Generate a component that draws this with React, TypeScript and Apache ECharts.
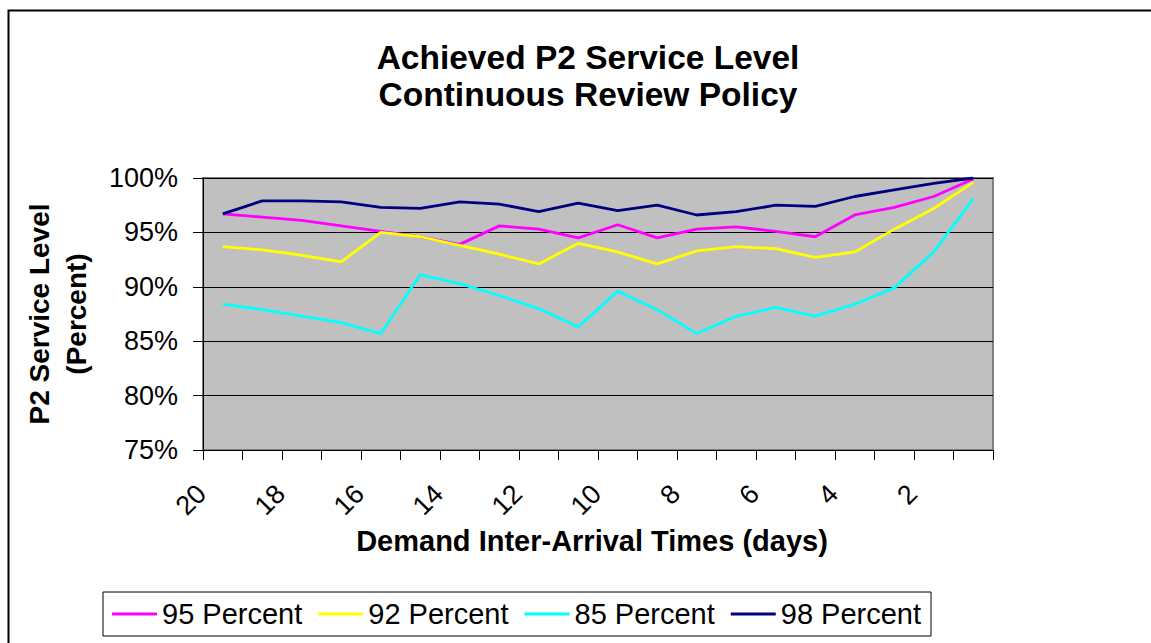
import React, { useEffect, useRef } from "react";
import * as echarts from "echarts";

const categories = ["20","19","18","17","16","15","14","13","12","11","10","9","8","7","6","5","4","3","2","1"];
const p95 = [96.7, 96.4, 96.1, 95.6, 95.1, 94.6, 93.9, 95.6, 95.3, 94.5, 95.7, 94.5, 95.3, 95.5, 95.1, 94.6, 96.6, 97.3, 98.3, 99.9];
const p92 = [93.7, 93.4, 92.9, 92.3, 95.0, 94.6, 93.8, 93.0, 92.1, 94.0, 93.2, 92.1, 93.3, 93.7, 93.5, 92.7, 93.2, 95.3, 97.2, 99.6];
const p85 = [88.4, 87.9, 87.3, 86.7, 85.7, 91.1, 90.3, 89.2, 88.0, 86.3, 89.6, 87.9, 85.7, 87.3, 88.1, 87.3, 88.4, 89.9, 93.2, 98.1];
const p98 = [96.7, 97.9, 97.9, 97.8, 97.3, 97.2, 97.8, 97.6, 96.9, 97.7, 97.0, 97.5, 96.6, 96.9, 97.5, 97.4, 98.3, 98.9, 99.5, 100.0];
const seriesNames = ["95 Percent", "92 Percent", "85 Percent", "98 Percent"];
const seriesColors = ["#FF00FF", "#FFFF00", "#00FFFF", "#000080"];
const FONT = "'Liberation Sans', Arial, sans-serif";

export default function App() {
  const ref = useRef<HTMLDivElement>(null);
  useEffect(() => {
    if (!ref.current) return;
    const chart = echarts.init(ref.current, null, { renderer: "svg" });
    const data = [p95, p92, p85, p98];
    chart.setOption({
      animation: false,
      backgroundColor: "#ffffff",
      textStyle: { fontFamily: FONT, color: "#000" },
      graphic: [
        {
          type: "rect",
          shape: { x: 8.5, y: 10.5, width: 1160, height: 660 },
          style: { fill: "none", stroke: "#000", lineWidth: 2 },
          silent: true,
        },
      ],
      title: {
        text: "Achieved P2 Service Level\nContinuous Review Policy",
        left: 583,
        top: 34,
        textAlign: "center",
        textStyle: { fontFamily: FONT, fontWeight: "bold", fontSize: 33.5, lineHeight: 37, color: "#000" },
      },
      legend: {
        left: 103,
        top: 592,
        orient: "horizontal",
        icon: "rect",
        itemWidth: 45,
        itemHeight: 3,
        itemGap: 16,
        padding: [7, 10, 7, 9],
        borderColor: "#000",
        borderWidth: 1,
        backgroundColor: "#fff",
        textStyle: { fontFamily: FONT, fontSize: 29, lineHeight: 30, color: "#000" },
        data: seriesNames,
      },
      grid: {
        left: 203,
        right: 158,
        top: 178,
        bottom: 193,
        show: true,
        backgroundColor: "#C0C0C0",
        borderColor: "#808080",
        borderWidth: 2,
      },
      xAxis: {
        type: "category",
        data: categories,
        boundaryGap: true,
        name: "Demand Inter-Arrival Times (days)",
        nameLocation: "middle",
        nameGap: 76,
        nameTextStyle: { fontFamily: FONT, fontWeight: "bold", fontSize: 29, color: "#000", padding: [0, 12, 0, 0] },
        axisLine: { lineStyle: { color: "#000", width: 1 } },
        axisTick: { show: true, interval: 0, length: 10, inside: false, lineStyle: { color: "#000" } },
        axisLabel: {
          interval: 1,
          rotate: 45,
          margin: 18,
          padding: [0, 30, 0, 0],
          fontFamily: FONT,
          fontSize: 27,
          color: "#000",
        },
        splitLine: { show: false },
      },
      yAxis: {
        type: "value",
        min: 75,
        max: 100,
        interval: 5,
        name: "P2 Service Level\n(Percent)",
        nameLocation: "middle",
        nameRotate: 90,
        nameGap: 108,
        nameTextStyle: { fontFamily: FONT, fontWeight: "bold", fontSize: 28, lineHeight: 37, color: "#000" },
        axisLine: { show: true, lineStyle: { color: "#000", width: 1 } },
        axisTick: { show: true, length: 10, inside: false, lineStyle: { color: "#000" } },
        axisLabel: { formatter: "{value}%", margin: 25, fontFamily: FONT, fontSize: 27, color: "#000" },
        splitLine: { show: true, lineStyle: { color: "#000", width: 1 } },
      },
      series: seriesNames.map((name, i) => ({
        name,
        type: "line",
        data: data[i],
        showSymbol: false,
        symbol: "none",
        color: seriesColors[i],
        lineStyle: { color: seriesColors[i], width: 2.8 },
      })),
    });
    return () => chart.dispose();
  }, []);
  return <div ref={ref} style={{ position: "fixed", left: 0, top: 0, width: 1151, height: 643 }} />;
}
